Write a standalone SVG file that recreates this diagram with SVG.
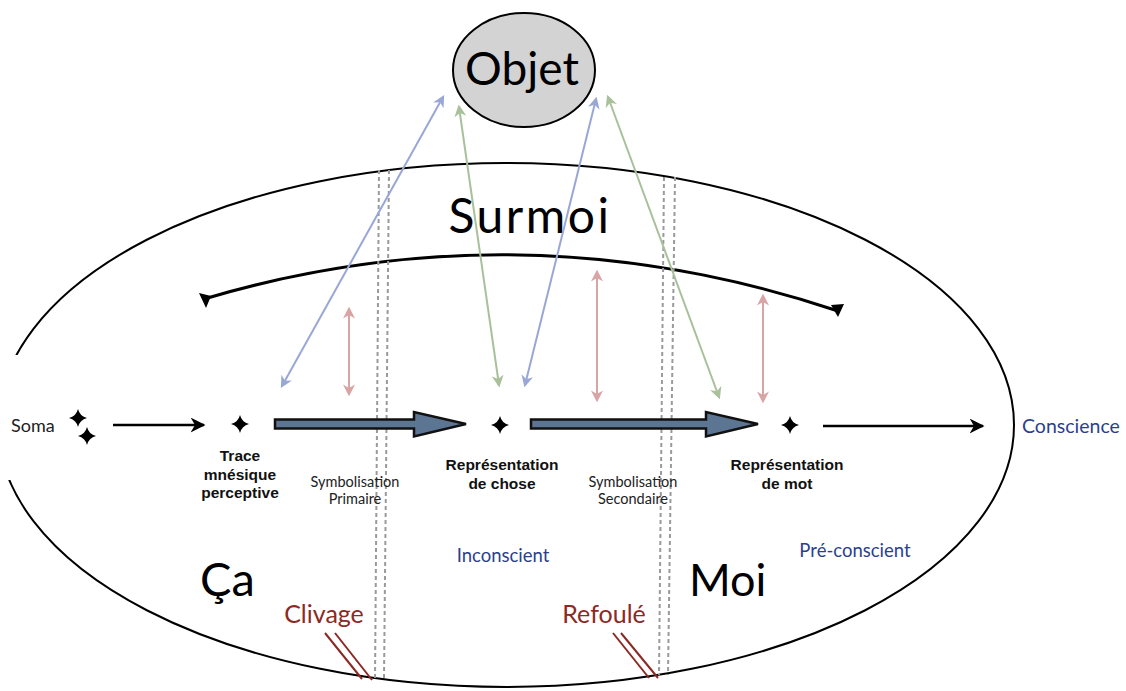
<svg xmlns="http://www.w3.org/2000/svg" width="1126" height="691" viewBox="0 0 1126 691">
<style>
.lbl{font-family:Lato,"Open Sans","Liberation Sans",sans-serif;}
.bold{font-family:"Liberation Sans",Arial,sans-serif;font-weight:bold;font-size:15.5px;fill:#111;text-anchor:middle}
.sym{font-size:14.5px;fill:#222;text-anchor:middle}
.blue{fill:#2c3f8c}
.red{fill:#8b2a24}
.dash{stroke:#9a9a9a;stroke-width:2;stroke-dasharray:4 3;fill:none}
.cb{stroke:#99a7d6;stroke-width:2;fill:none}
.cg{stroke:#a9c19a;stroke-width:2;fill:none}
.cr{stroke:#d8a4a4;stroke-width:2;fill:none}
.big{fill:#5b7592;stroke:#111;stroke-width:2.5;stroke-linejoin:miter}
</style>
<defs>
<path id="star" d="M0,-9 Q1.8,-1.8 9,0 Q1.8,1.8 0,9 Q-1.8,1.8 -9,0 Q-1.8,-1.8 0,-9Z" fill="#000"/>
<marker id="mb" viewBox="0 0 10 10" refX="8" refY="5" markerWidth="6" markerHeight="6" orient="auto-start-reverse"><path d="M0,0 L10,5 L0,10 L3,5z" fill="#99a7d6"/></marker>
<marker id="mg" viewBox="0 0 10 10" refX="8" refY="5" markerWidth="6" markerHeight="6" orient="auto-start-reverse"><path d="M0,0 L10,5 L0,10 L3,5z" fill="#a9c19a"/></marker>
<marker id="mr" viewBox="0 0 10 10" refX="8" refY="5" markerWidth="6" markerHeight="6" orient="auto-start-reverse"><path d="M0,0 L10,5 L0,10 L3,5z" fill="#d8a4a4"/></marker>
<marker id="mk" viewBox="0 0 10 10" refX="9" refY="5" markerWidth="6" markerHeight="6" orient="auto"><path d="M0,0 L10,5 L0,10 L3,5z" fill="#000"/></marker>
</defs>
<rect width="1126" height="691" fill="#fff"/>

<g id="psyche">
<ellipse cx="506" cy="425" rx="508" ry="262" fill="none" stroke="#000" stroke-width="2"/>
<rect x="0" y="355" width="40" height="125" fill="#fff"/>
</g>

<g id="objet">
<ellipse cx="524" cy="70" rx="71" ry="57" fill="#d3d3d3" stroke="#000" stroke-width="2"/>
<text class="lbl" x="522" y="85" font-size="46" text-anchor="middle" fill="#000">Objet</text>
</g>

<g id="surmoi">
<text class="lbl" x="530" y="233" font-size="48" letter-spacing="2.5" text-anchor="middle" fill="#000">Surmoi</text>
<path d="M204,299 Q520,205 838,311" fill="none" stroke="#000" stroke-width="3"/>
<path d="M199,293 L211,296 L206,308 Z" fill="#000"/>
<path d="M831,305 L844,304 L838,317 Z" fill="#000"/>
</g>

<g id="separations">
<line class="dash" x1="379" y1="170" x2="375" y2="680"/>
<line class="dash" x1="389" y1="170" x2="384" y2="680"/>
<line class="dash" x1="664" y1="177" x2="659" y2="675"/>
<line class="dash" x1="675" y1="177" x2="668" y2="675"/>
</g>

<g id="connectors">
<line class="cb" x1="282" y1="386" x2="443" y2="97" marker-start="url(#mb)" marker-end="url(#mb)"/>
<line class="cg" x1="459" y1="107" x2="499" y2="385" marker-start="url(#mg)" marker-end="url(#mg)"/>
<line class="cb" x1="525" y1="385" x2="596" y2="99" marker-start="url(#mb)" marker-end="url(#mb)"/>
<line class="cg" x1="608" y1="97" x2="719" y2="397" marker-start="url(#mg)" marker-end="url(#mg)"/>
<line class="cr" x1="349" y1="309" x2="349" y2="394" marker-start="url(#mr)" marker-end="url(#mr)"/>
<line class="cr" x1="597" y1="272" x2="597" y2="400" marker-start="url(#mr)" marker-end="url(#mr)"/>
<line class="cr" x1="763" y1="296" x2="763" y2="401" marker-start="url(#mr)" marker-end="url(#mr)"/>
<line x1="113" y1="425" x2="204" y2="425" stroke="#000" stroke-width="2.5" marker-end="url(#mk)"/>
<line x1="823" y1="426" x2="983" y2="426" stroke="#000" stroke-width="2.5" marker-end="url(#mk)"/>
<path class="big" d="M275,419.5 L414,419.5 L414,412 L466,424 L414,436.5 L414,428.5 L275,428.5 Z"/>
<path class="big" d="M531,419.5 L706,419.5 L706,412 L758,424 L706,436.5 L706,428.5 L531,428.5 Z"/>
</g>

<g id="soma">
<use href="#star" x="78" y="418"/>
<use href="#star" x="87" y="436"/>
<text class="lbl" x="11" y="432" font-size="18" fill="#222">Soma</text>
</g>

<g id="trace">
<use href="#star" x="240" y="424"/>
<text class="bold"><tspan x="240" y="461">Trace</tspan><tspan x="240" y="479.5">mnésique</tspan><tspan x="240" y="498">perceptive</tspan></text>
</g>

<g id="chose">
<use href="#star" x="500" y="425"/>
<text class="bold"><tspan x="502" y="470">Représentation</tspan><tspan x="502" y="488.5">de chose</tspan></text>
</g>

<g id="mot">
<use href="#star" x="790" y="425"/>
<text class="bold"><tspan x="787" y="470">Représentation</tspan><tspan x="787" y="488.5">de mot</tspan></text>
</g>

<g id="symb-primaire">
<text class="lbl sym"><tspan x="355" y="487">Symbolisation</tspan><tspan x="355" y="504">Primaire</tspan></text>
</g>
<g id="symb-secondaire">
<text class="lbl sym"><tspan x="633" y="487">Symbolisation</tspan><tspan x="633" y="504">Secondaire</tspan></text>
</g>

<g id="conscience"><text class="lbl blue" x="1022" y="433" font-size="19.5">Conscience</text></g>
<g id="inconscient"><text class="lbl blue" x="503" y="562" font-size="18.5" text-anchor="middle">Inconscient</text></g>
<g id="preconscient"><text class="lbl blue" x="855" y="557" font-size="18.5" text-anchor="middle">Pré-conscient</text></g>

<g id="ca"><text class="lbl" x="200" y="596" font-size="47" fill="#000">Ça</text></g>
<g id="moi"><text class="lbl" x="689" y="596" font-size="45" fill="#000">Moi</text></g>

<g id="clivage">
<text class="lbl red" x="324" y="623" font-size="25" text-anchor="middle">Clivage</text>
<line x1="325" y1="633" x2="362" y2="679" stroke="#8b2a24" stroke-width="2"/>
<line x1="335" y1="633" x2="372" y2="680" stroke="#8b2a24" stroke-width="2"/>
</g>
<g id="refoule">
<text class="lbl red" x="604" y="623" font-size="25" text-anchor="middle">Refoulé</text>
<line x1="613" y1="633" x2="649" y2="678" stroke="#8b2a24" stroke-width="2"/>
<line x1="621" y1="633" x2="658" y2="678" stroke="#8b2a24" stroke-width="2"/>
</g>
</svg>
